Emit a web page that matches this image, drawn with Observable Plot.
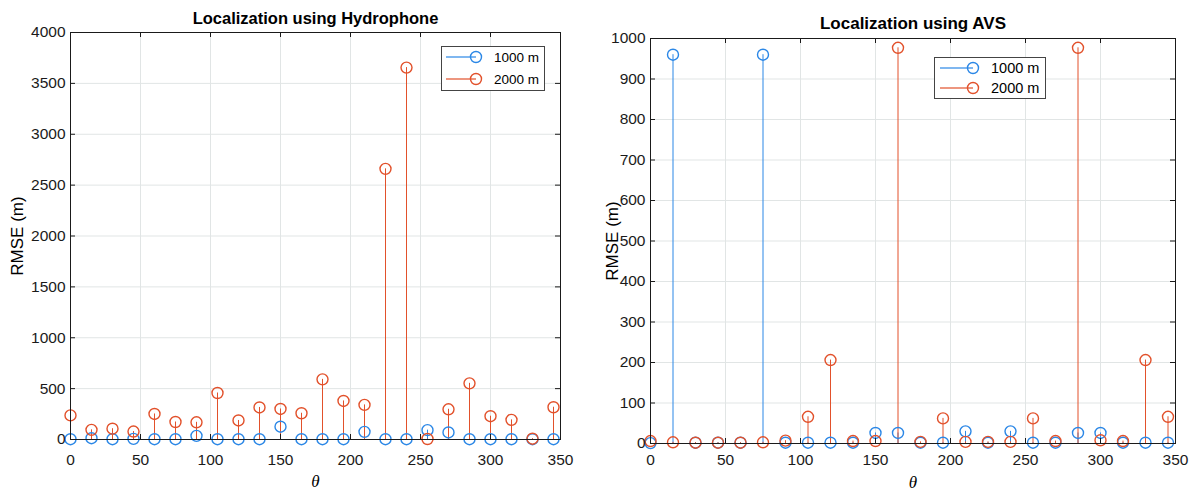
<!DOCTYPE html>
<html><head><meta charset="utf-8">
<script src="https://cdn.jsdelivr.net/npm/d3@7"></script>
<script src="https://cdn.jsdelivr.net/npm/@observablehq/plot@0.6"></script>
<style>
body{margin:0;background:#fff;}
#wrap{position:relative;width:1194px;height:493px;overflow:hidden;font-family:"Liberation Sans",Arial,sans-serif;background:#fff;}
.panel{position:absolute;top:0;}
.legend{position:absolute;}
</style></head><body><div id="wrap"></div>
<script>
const theta = [0,15,30,45,60,75,90,105,120,135,150,165,180,195,210,225,240,255,270,285,300,315,330,345];
const hydro1000 = [3,13,3,6,3,3,36,3,3,3,126,3,3,3,75,3,3,92,69,3,3,3,3,3];
const hydro2000 = [237,95,106,78,251,172,169,457,187,315,300,258,591,379,340,2660,3655,5,297,552,229,193,8,317];
const avs1000 = [1,960,2,2,2,960,2,2,2,2,26,26,2,2,30,2,30,2,2,26,26,2,2,2];
const avs2000 = [6,3,2,2,2,3,7,66,206,6,6,977,4,62,4,4,4,62,6,977,8,6,206,66];
const xTicks = [0,50,100,150,200,250,300,350];
const hydroYTicks = [0,500,1000,1500,2000,2500,3000,3500,4000];
const avsYTicks = [0,100,200,300,400,500,600,700,800,900,1000];
const seriesNames = ["1000 m","2000 m"];
const colors = ["#2b87e6","#e2512b"];
const titles = ["Localization using Hydrophone","Localization using AVS"];

const W = 597, H = 493;
const ink = "#1a1a1a", gridCol = "#e1e5e5";
const plain = d => String(d);

function panel(cfg){
  const m = cfg.m;
  const pw = W - m.left - m.right, ph = H - m.top - m.bottom;
  const blue = theta.map((t,i)=>({theta:t, v:cfg.a[i], s:seriesNames[0]}));
  const red = theta.map((t,i)=>({theta:t, v:cfg.b[i], s:seriesNames[1]}));
  return Plot.plot({
    width:W, height:H,
    marginLeft:m.left, marginRight:m.right, marginTop:m.top, marginBottom:m.bottom,
    x:{domain:[0,350], label:null},
    y:{domain:[0,cfg.yMax], label:null},
    color:{domain:seriesNames, range:colors},
    style:{fontFamily:'"Liberation Sans", Arial, sans-serif', fontSize:"15.5px", color:ink, background:"white"},
    marks:[
      Plot.gridX(xTicks, {stroke:gridCol, strokeOpacity:1}),
      Plot.gridY(cfg.yTicks, {stroke:gridCol, strokeOpacity:1}),
      Plot.ruleX(blue, {x:"theta", y1:0, y2:"v", stroke:"s", strokeWidth:1}),
      Plot.ruleX(red, {x:"theta", y1:0, y2:"v", stroke:"s", strokeWidth:1}),
      Plot.dot(blue, {x:"theta", y:"v", r:5.5, stroke:"s", strokeWidth:1.4, fill:"none"}),
      Plot.dot(red, {x:"theta", y:"v", r:5.5, stroke:"s", strokeWidth:1.4, fill:"none"}),
      Plot.frame({stroke:ink, strokeWidth:1}),
      Plot.tickX(xTicks, {insetTop:ph-5, stroke:ink}),
      Plot.tickX(xTicks, {insetBottom:ph-5, stroke:ink}),
      Plot.tickY(cfg.yTicks, {insetRight:pw-5, stroke:ink}),
      Plot.tickY(cfg.yTicks, {insetLeft:pw-5, stroke:ink}),
      Plot.axisX(xTicks, {tickSize:0, tickPadding:cfg.xPad, tickFormat:plain, label:null, fill:ink}),
      Plot.axisY(cfg.yTicks, {tickSize:0, tickPadding:5, tickFormat:plain, label:null, fill:ink}),
      Plot.text([cfg.title], {frameAnchor:"top", dy:cfg.titleDy, fontWeight:"bold", fontSize:cfg.titleSize, textAnchor:"middle", lineAnchor:"middle", fill:"#000"}),
      Plot.text(["RMSE (m)"], {frameAnchor:"left", dx:cfg.ylabDx, rotate:-90, fontSize:17, textAnchor:"middle", lineAnchor:"middle", fill:"#000"}),
      Plot.text(["θ"], {frameAnchor:"bottom", dy:cfg.xlabDy, fontStyle:"italic", fontFamily:'"Liberation Serif", serif', fontSize:17, textAnchor:"middle", lineAnchor:"middle", fill:"#000"})
    ]
  });
}

function legend(box){
  const ns = "http://www.w3.org/2000/svg";
  const svg = document.createElementNS(ns,"svg");
  svg.setAttribute("width", box.w); svg.setAttribute("height", box.h);
  svg.setAttribute("class","legend");
  svg.style.left = box.x+"px"; svg.style.top = box.y+"px";
  let html = `<rect x="0.5" y="0.5" width="${box.w-1}" height="${box.h-1}" fill="white" stroke="#444" stroke-width="1"/>`;
  seriesNames.forEach((name,i)=>{
    const yy = box.rows[i];
    html += `<line x1="${box.l1}" x2="${box.l2}" y1="${yy}" y2="${yy}" stroke="${colors[i]}" stroke-opacity="0.8" stroke-width="1.5"/>`;
    html += `<circle cx="${box.l2}" cy="${yy}" r="5.5" fill="none" stroke="${colors[i]}" stroke-width="1.4"/>`;
    html += `<text x="${box.tx}" y="${yy}" dy="0.35em" font-size="${box.fs}" font-family="Liberation Sans, Arial, sans-serif" fill="#000">${name}</text>`;
  });
  svg.innerHTML = html;
  return svg;
}

const wrap = document.getElementById("wrap");
const left = panel({title:titles[0], a:hydro1000, b:hydro2000, yTicks:hydroYTicks, yMax:4000,
  m:{left:70, right:37, top:32, bottom:54}, xPad:14, titleDy:-14, titleSize:16.5, ylabDx:-53, xlabDy:42});
left.classList.add("panel"); left.style.left = "0px";
const right = panel({title:titles[1], a:avs1000, b:avs2000, yTicks:avsYTicks, yMax:1000,
  m:{left:53, right:19, top:38, bottom:50}, xPad:10, titleDy:-15, titleSize:17, ylabDx:-38, xlabDy:39});
right.classList.add("panel"); right.style.left = W+"px";
wrap.appendChild(left); wrap.appendChild(right);
wrap.appendChild(legend({x:441, y:46, w:104, h:45, rows:[11,33], l1:5, l2:35, tx:53, fs:13.5}));
wrap.appendChild(legend({x:934, y:57, w:112, h:42, rows:[11,31], l1:6, l2:39, tx:57, fs:14.5}));
</script></body></html>
